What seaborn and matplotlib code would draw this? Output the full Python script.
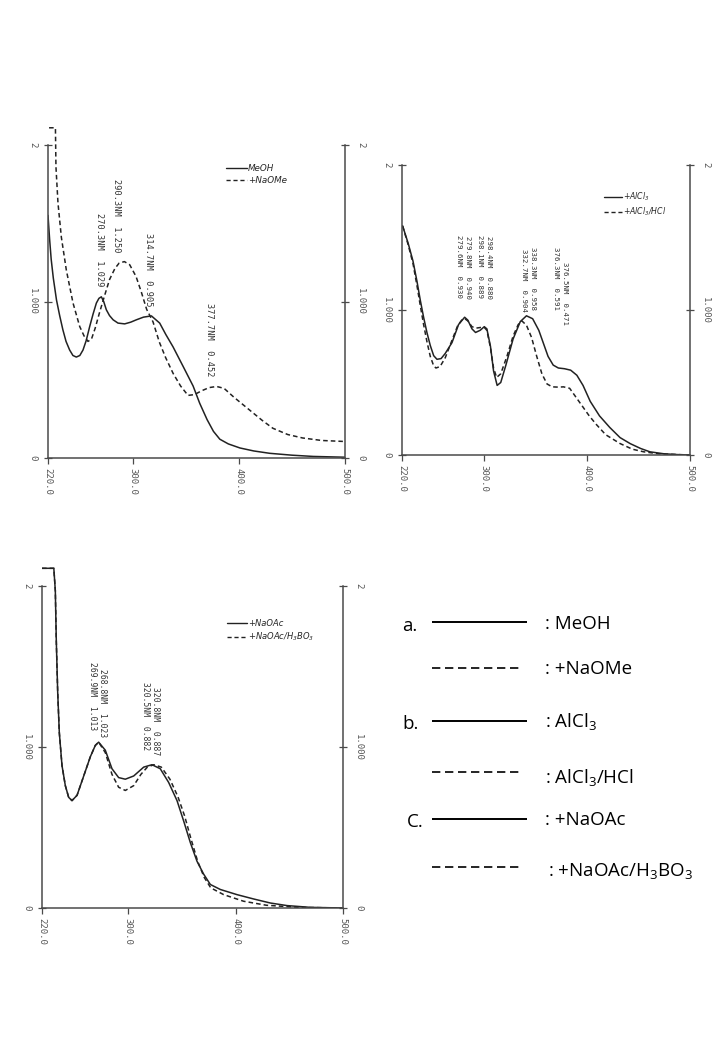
import matplotlib
matplotlib.use("Agg")
import matplotlib.pyplot as plt
from matplotlib.lines import Line2D
import pandas as pd
import seaborn as sns

# ---------------- data ----------------
# (a) MeOH / +NaOMe
a_meoh_nm = [220, 221.5, 223, 225, 228, 231, 234, 237, 240.4, 243.5, 246.7, 250, 253, 256, 259.3,
             262.5, 265.6, 268, 270.3, 272.5, 275, 278, 281.4, 286, 292.3, 298, 303.3, 310, 317.5,
             325.3, 331, 337.9, 347.4, 356.8, 363, 370, 376, 382, 390, 401, 414, 429, 450, 470, 500]
a_meoh_abs = [1.55, 1.40, 1.27, 1.15, 1.01, 0.91, 0.82, 0.745, 0.69, 0.655, 0.645, 0.655, 0.69, 0.75, 0.84,
              0.92, 0.99, 1.02, 1.03, 1.0, 0.947, 0.91, 0.883, 0.862, 0.857, 0.868, 0.883, 0.90, 0.908,
              0.862, 0.79, 0.71, 0.585, 0.46, 0.35, 0.245, 0.17, 0.12, 0.09, 0.064, 0.045, 0.03, 0.018, 0.01, 0.005]
a_naome_nm = [221, 227, 227.5, 229.4, 232.6, 237.3, 243.6, 249.9, 254, 257.7, 261, 264.5, 268.4, 273, 278,
              283, 287, 292, 297, 303, 308, 313, 319, 325, 331, 338, 345, 352, 358, 365, 372, 379, 386,
              395, 404, 413, 422, 432, 446, 460, 478, 498]
a_naome_abs = [2.11, 2.11, 1.86, 1.63, 1.41, 1.20, 0.99, 0.84, 0.78, 0.745, 0.76, 0.83, 0.925, 1.03, 1.14,
               1.21, 1.245, 1.255, 1.235, 1.16, 1.06, 0.95, 0.87, 0.74, 0.64, 0.54, 0.46, 0.40, 0.405, 0.43,
               0.45, 0.457, 0.445, 0.39, 0.34, 0.29, 0.24, 0.19, 0.15, 0.128, 0.112, 0.106]
a_series = ["MeOH", "+NaOMe"]
a_peak_text = ["270.3NM  1.029", "290.3NM  1.250", "314.7NM  0.905", "377.7NM  0.452"]
a_peak_x = [268.1, 284.8, 314.3, 372.7]
a_peak_y = [1.093, 1.31, 0.965, 0.518]

# (b) +AlCl3 / +AlCl3/HCl
b_alcl_nm = [220.6, 226, 230.7, 234.5, 237.8, 241, 244.3, 247.5, 250.8, 254, 258, 262, 268.6, 275, 280.9,
             284, 288, 291.5, 296, 300, 302.5, 306, 309, 312.5, 316, 321, 328, 335, 341, 347, 353, 358,
             362, 367, 372, 378, 384, 390, 396, 403, 412, 422, 432, 442, 452, 461, 475, 490, 500]
b_alcl_abs = [1.58, 1.46, 1.337, 1.20, 1.067, 0.95, 0.843, 0.755, 0.685, 0.66, 0.665, 0.70, 0.775, 0.90, 0.95,
              0.93, 0.87, 0.845, 0.86, 0.885, 0.87, 0.75, 0.58, 0.48, 0.50, 0.62, 0.80, 0.92, 0.96, 0.94, 0.86,
              0.76, 0.68, 0.62, 0.60, 0.595, 0.585, 0.55, 0.48, 0.37, 0.27, 0.19, 0.12, 0.078, 0.045, 0.022,
              0.008, 0.002, 0.0]
b_hcl_nm = [220.6, 226, 230.7, 234.5, 237.8, 241, 244.3, 247.5, 250.8, 253, 257, 262, 268, 274, 278, 281,
            284, 288, 292, 297, 300, 302.5, 306, 309, 312, 316, 322, 328, 333, 336.5, 341, 346, 351, 356,
            361, 366, 372, 377, 383, 390, 396, 402, 409, 418, 432, 444, 455, 470, 500]
b_hcl_abs = [1.58, 1.45, 1.32, 1.17, 1.03, 0.90, 0.78, 0.68, 0.615, 0.60, 0.61, 0.67, 0.78, 0.89, 0.93, 0.94,
             0.925, 0.885, 0.875, 0.88, 0.88, 0.86, 0.74, 0.60, 0.535, 0.56, 0.68, 0.82, 0.90, 0.925, 0.895,
             0.81, 0.68, 0.56, 0.49, 0.47, 0.468, 0.47, 0.46, 0.39, 0.33, 0.27, 0.21, 0.14, 0.079, 0.04,
             0.022, 0.008, 0.0]
b_series = ["+AlCl$_3$", "+AlCl$_3$/HCl"]
b_peak_text = ["279.6NM  0.930", "279.8NM  0.940", "298.1NM  0.889", "298.4NM  0.880",
               "332.7NM  0.904", "338.3NM  0.958", "376.3NM  0.591", "376.5NM  0.471"]
b_peak_x = [275.4, 284.2, 295.8, 304.6, 338.6, 347.4, 369.7, 378.5]
b_peak_y = [1.08, 1.075, 1.08, 1.075, 0.986, 1.0, 1.0, 0.9]

# (c) +NaOAc / +NaOAc/H3BO3
c_naoac_nm = [220, 231, 232.4, 233.3, 234.6, 236.1, 238.6, 241.7, 244.8, 247.9, 252.6, 258.8, 265, 269.6,
              272.7, 278.9, 285.1, 291.3, 297.5, 305.3, 314.6, 322.3, 330, 337.8, 345.6, 351.8, 358, 364.2,
              370.4, 376.6, 385.9, 401.4, 416.9, 432.4, 447.9, 469.6, 500]
c_naoac_abs = [2.11, 2.11, 1.97, 1.66, 1.34, 1.09, 0.885, 0.76, 0.6875, 0.667, 0.70, 0.82, 0.94, 1.01,
               1.03, 0.98, 0.865, 0.81, 0.80, 0.82, 0.875, 0.89, 0.865, 0.78, 0.667, 0.54, 0.406, 0.29,
               0.21, 0.146, 0.115, 0.083, 0.056, 0.031, 0.015, 0.004, 0.0]
c_boric_nm = [220, 231, 232.4, 233.3, 234.6, 236.1, 238.6, 241.7, 244.8, 247.9, 252.6, 258.8, 265, 269.6,
              272.7, 278.9, 285.1, 291.3, 297.5, 305.3, 312, 318, 324, 331, 339, 346.5, 352.6, 358.7, 364.8,
              370.9, 377, 389, 407.5, 428.8, 459, 500]
c_boric_abs = [2.11, 2.11, 1.97, 1.66, 1.34, 1.09, 0.885, 0.76, 0.6875, 0.667, 0.70, 0.82, 0.94, 1.01,
               1.03, 0.965, 0.83, 0.75, 0.73, 0.76, 0.83, 0.875, 0.89, 0.875, 0.80, 0.69, 0.573, 0.427,
               0.29, 0.19, 0.125, 0.083, 0.042, 0.017, 0.004, 0.0]
c_series = ["+NaOAc", "+NaOAc/H$_3$BO$_3$"]
c_peak_text = ["269.9NM  1.013", "268.8NM  1.023", "320.5NM  0.882", "320.8NM  0.887"]
c_peak_x = [267.4, 276.7, 316.7, 326.0]
c_peak_y = [1.105, 1.06, 0.98, 0.95]

xticks = [220, 300, 400, 500]
xtick_labels = ["220.0", "300.0", "400.0", "500.0"]
yticks = [0, 1, 2]
ytick_labels = ["0", "1.000", "2"]

legend_rows = [("a.", "-", ": MeOH"), ("", "--", ": +NaOMe"),
               ("b.", "-", ": AlCl$_3$"), ("", "--", ": AlCl$_3$/HCl"),
               ("C.", "-", ": +NaOAc"), ("", "--", ": +NaOAc/H$_3$BO$_3$")]

# ---------------- style ----------------
sns.set_style("white")
plt.rcParams["font.family"] = ["DejaVu Sans"]
plt.rcParams["mathtext.default"] = "regular"

INK = "#222222"
AX = "#4a4a4a"
MONO = "DejaVu Sans Mono"

fig = plt.figure(figsize=(7.2, 10.4), dpi=100)


def panel(rect, nm1, ab1, nm2, ab2, series, ytop, ptext, px, py, leg_anchor, lfs, pfs):
    ax = fig.add_axes(rect)
    ax.patch.set_alpha(0)
    df = pd.DataFrame({
        "nm": nm1 + nm2,
        "A": ab1 + ab2,
        "series": [series[0]] * len(nm1) + [series[1]] * len(nm2),
    })
    sns.lineplot(data=df, x="nm", y="A", style="series", style_order=series,
                 dashes={series[0]: "", series[1]: (3, 2)}, color=INK, lw=1.1,
                 sort=False, estimator=None, legend=False, ax=ax)
    ax.set_xlim(220, 500)
    ax.set_ylim(0, ytop)
    ax.set_xlabel("")
    ax.set_ylabel("")
    ax.spines["top"].set_visible(False)
    for s in ["left", "right", "bottom"]:
        ax.spines[s].set_color(AX)
        ax.spines[s].set_linewidth(1.1)
    ax.spines["left"].set_bounds(0, 2)
    ax.spines["right"].set_bounds(0, 2)
    ax.set_xticks(xticks)
    ax.set_xticklabels(xtick_labels, rotation=-90, family=MONO, fontsize=6.5, color="#555555")
    ax.set_yticks(yticks)
    ax.set_yticklabels(ytick_labels, rotation=-90, family=MONO, fontsize=6.5, color="#555555",
                       va="center")
    ax.tick_params(axis="y", left=True, right=True, labelleft=True, labelright=True,
                   direction="inout", length=6, width=0.9, color=AX, pad=5)
    ax.tick_params(axis="x", bottom=True, direction="out", length=4, width=0.9, color=AX, pad=3)
    for t, x, y in zip(ptext, px, py):
        ax.text(x, y, t, rotation=-90, ha="center", va="bottom", family=MONO,
                fontsize=pfs, color="#333333")
    handles = [Line2D([], [], color=INK, lw=1.0),
               Line2D([], [], color=INK, lw=1.0, dashes=(3, 2))]
    ax.legend(handles, series, loc="upper left", bbox_to_anchor=leg_anchor, frameon=False,
              prop={"size": lfs, "style": "italic"}, handlelength=2.4, handletextpad=0.1,
              labelspacing=0.35, borderpad=0, borderaxespad=0)
    return ax


W, H = 720.0, 1040.0
# panel a: x 48-345 px, y0 at 458 px, 156.5 px/unit
panel([48 / W, (H - 458) / H, 297 / W, 2.15 * 156.5 / H],
      a_meoh_nm, a_meoh_abs, a_naome_nm, a_naome_abs, a_series, 2.15,
      a_peak_text, a_peak_x, a_peak_y, (0.60, 0.875), 6.3, 6.2)
# panel b: x 402-690 px, y0 at 455 px, 145 px/unit
panel([402 / W, (H - 455) / H, 288 / W, 2.05 * 145 / H],
      b_alcl_nm, b_alcl_abs, b_hcl_nm, b_hcl_abs, b_series, 2.05,
      b_peak_text, b_peak_x, b_peak_y, (0.70, 0.89), 5.6, 5.3)
# panel c: x 42-343 px, y0 at 908 px, 161 px/unit
panel([42 / W, (H - 908) / H, 301 / W, 2.15 * 161 / H],
      c_naoac_nm, c_naoac_abs, c_boric_nm, c_boric_abs, c_series, 2.15,
      c_peak_text, c_peak_x, c_peak_y, (0.615, 0.835), 6.0, 5.8)

# ---------------- side legend ----------------
lg = fig.add_axes([0, 0, 1, 1])
lg.set_xlim(0, W)
lg.set_ylim(H, 0)
lg.axis("off")
lg.patch.set_visible(False)
line_y = [622, 668, 721, 772, 819, 867]
text_y = [629, 674, 727, 783, 825, 876]
tag_x = [402, 402, 402, 402, 407, 407]
text_x = [545, 545, 545, 545, 545, 548]
TF = "Open Sans"
for (tag, ls, txt), ly, ty, tx, gx in zip(legend_rows, line_y, text_y, text_x, tag_x):
    if tag:
        lg.text(gx, ty + 2, tag, ha="left", va="baseline", fontsize=13.5, family=TF, color="black")
    if ls == "-":
        lg.plot([432, 527], [ly, ly], color="black", lw=1.4, solid_capstyle="butt")
    else:
        lg.plot([432, 520], [ly, ly], color="black", lw=1.2, dashes=(5, 2.8))
    lg.text(tx, ty, txt, ha="left", va="baseline", fontsize=13.5, family=TF, color="black")

fig.savefig("out.png", dpi=100, facecolor="white")
